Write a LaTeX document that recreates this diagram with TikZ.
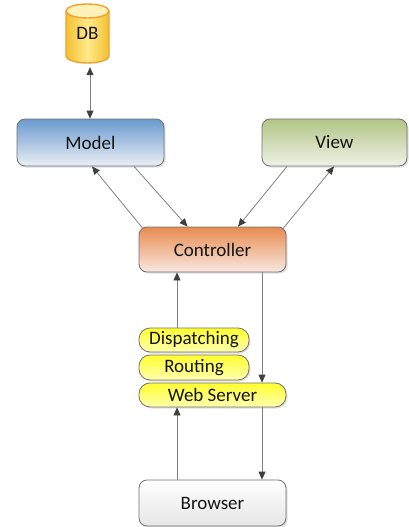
\documentclass[tikz,border=0pt]{standalone}
\usepackage{fontspec}
\setmainfont{Carlito}
\usetikzlibrary{arrows.meta,shadows}
\definecolor{bord}{HTML}{707070}
\definecolor{txt}{HTML}{141414}
\definecolor{modtop}{HTML}{6A99CE}
\definecolor{modbot}{HTML}{EBEFF5}
\definecolor{viewtop}{HTML}{B1C585}
\definecolor{viewbot}{HTML}{EFF2E8}
\definecolor{ctltop}{HTML}{E98C50}
\definecolor{ctlbot}{HTML}{F7E8E0}
\definecolor{yeltop}{HTML}{FFFF2E}
\definecolor{yelbot}{HTML}{FFFFB0}
\definecolor{brwbot}{HTML}{E6E6E6}
\definecolor{dbside}{HTML}{F2C232}
\definecolor{dbmid}{HTML}{FFE98A}
\definecolor{dbtop}{HTML}{FFF2B8}
\definecolor{dbline}{HTML}{F0A030}
\definecolor{lin}{HTML}{808080}
\definecolor{tip}{HTML}{404040}
\tikzset{
  box/.style={draw=bord, line width=0.8pt, rounded corners=8pt, text=txt,
    font=\fontsize{19}{21}\selectfont, inner sep=0pt,
    drop shadow={shadow xshift=1.5pt, shadow yshift=-1.5pt, opacity=0.25, fill=gray}},
  pill/.style={box, rounded corners=11pt},
  arr/.style={draw=lin, line width=0.8pt, -{Triangle[length=8pt,width=7pt,color=tip]}},
  arrboth/.style={draw=lin, line width=0.8pt, {Triangle[length=8pt,width=7pt,color=tip]}-{Triangle[length=8pt,width=7pt,color=tip]}}
}
\begin{document}
\begin{tikzpicture}[x=1pt,y=1pt]
\useasboundingbox (0,0) rectangle (408,-527);
% DB cylinder
\shade[left color=dbside, right color=dbside, middle color=dbmid]
  (66,-11) -- (66,-56) arc(180:360:21.5 and 7) -- (109,-11) arc(0:180:21.5 and 7) -- cycle;
\draw[dbline, line width=1.4pt]
  (66,-11) -- (66,-56) arc(180:360:21.5 and 7) -- (109,-11);
\fill[dbtop] (87.5,-11) ellipse (21.5 and 7);
\draw[dbline, line width=1.4pt] (87.5,-11) ellipse (21.5 and 7);
\node[text=txt, font=\fontsize{19}{21}\selectfont, minimum width=44pt, minimum height=59pt, inner sep=0pt] (DB) at (87.5,-33.5) {DB};

\node[box, top color=modtop, bottom color=modbot, minimum width=147pt, minimum height=47pt] (Model) at (90.5,-142.5) {Model};
\node[box, top color=viewtop, bottom color=viewbot, minimum width=145pt, minimum height=47pt] (View) at (334.5,-142.5) {View};
\node[box, top color=ctltop, bottom color=ctlbot, minimum width=147pt, minimum height=45pt] (Controller) at (212.5,-249.5) {Controller};
\node[pill, top color=yeltop, bottom color=yelbot, minimum width=110pt, minimum height=24pt] (Dispatching) at (194,-340) {Dispatching};
\node[pill, top color=yeltop, bottom color=yelbot, minimum width=110pt, minimum height=25pt] (Routing) at (194,-367.5) {Routing};
\node[pill, top color=yeltop, bottom color=yelbot, minimum width=147pt, minimum height=24pt] (WebServer) at (212.5,-395) {Web Server};
\node[box, top color=white, bottom color=brwbot, minimum width=147pt, minimum height=46pt] (Browser) at (212.5,-503) {Browser};

\coordinate (xL) at (177,0);
\coordinate (xR) at (262,0);
\coordinate (xD) at (90,0);

\draw[arrboth, shorten <=4pt] (DB.south -| xD) -- (Model.north -| xD);
\draw[arr] ([xshift=43.5pt]Model.south) -- ([xshift=-25pt]Controller.north);
\draw[arr] ([xshift=-69.5pt,yshift=-2pt]Controller.north) -- ([xshift=1.5pt]Model.south);
\draw[arr] ([xshift=-47.5pt]View.south) -- ([xshift=25.5pt]Controller.north);
\draw[arr] ([xshift=70.5pt,yshift=-2pt]Controller.north) -- ([xshift=-0.5pt]View.south);
\draw[arr] (Dispatching.north -| xL) -- (Controller.south -| xL);
\draw[arr] (Controller.south -| xR) -- (WebServer.north -| xR);
\draw[arr] (Browser.north -| xL) -- (WebServer.south -| xL);
\draw[arr] (WebServer.south -| xR) -- (Browser.north -| xR);
\end{tikzpicture}
\end{document}
